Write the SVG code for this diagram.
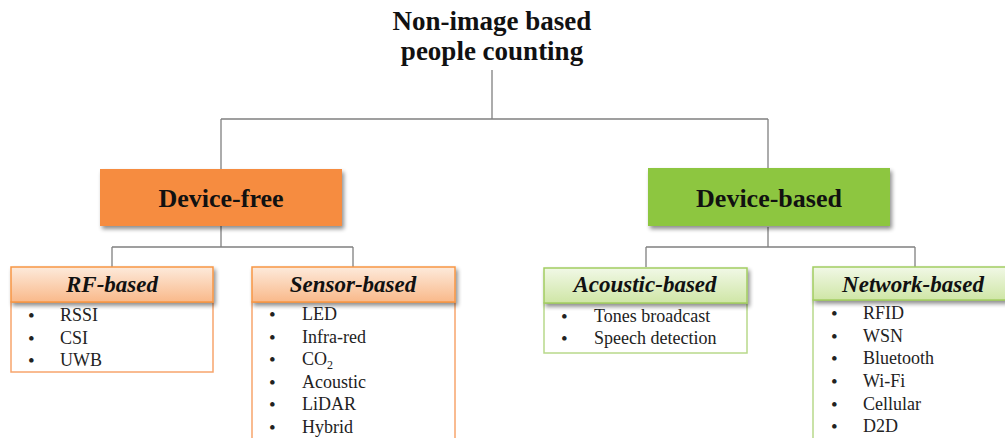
<svg xmlns="http://www.w3.org/2000/svg" width="1005" height="438" viewBox="0 0 1005 438">
  <defs>
    <linearGradient id="hdrOrange" x1="0" y1="0" x2="0" y2="1">
      <stop offset="0" stop-color="#fdeadb"/>
      <stop offset="1" stop-color="#f9b98a"/>
    </linearGradient>
    <linearGradient id="hdrGreen" x1="0" y1="0" x2="0" y2="1">
      <stop offset="0" stop-color="#f1f8e6"/>
      <stop offset="1" stop-color="#cfe6a6"/>
    </linearGradient>
    <filter id="shadow" x="-10%" y="-20%" width="125%" height="160%">
      <feGaussianBlur in="SourceAlpha" stdDeviation="2.2"/>
      <feOffset dx="2" dy="3" result="b"/>
      <feComponentTransfer><feFuncA type="linear" slope="0.45"/></feComponentTransfer>
      <feMerge><feMergeNode/><feMergeNode in="SourceGraphic"/></feMerge>
    </filter>
  </defs>
  <style>
    .title { font-family: "Liberation Serif", "Times New Roman", serif; font-weight: bold; font-size: 27px; fill: #111; text-anchor: middle; }
    .main { font-family: "Liberation Serif", "Times New Roman", serif; font-weight: bold; font-size: 26px; fill: #111; text-anchor: middle; }
    .hdr { font-family: "Liberation Serif", "Times New Roman", serif; font-weight: bold; font-style: italic; font-size: 23px; fill: #111; text-anchor: middle; }
    .item { font-family: "Liberation Serif", "Times New Roman", serif; font-size: 18px; fill: #222; }
    .bul { font-family: "Liberation Serif", "Times New Roman", serif; font-size: 19px; fill: #222; }
    .wire { stroke: #808080; stroke-width: 1.3; fill: none; }
    .oBody { fill: #ffffff; stroke: #f7a56c; stroke-width: 1.5; }
    .gBody { fill: #ffffff; stroke: #b8d98a; stroke-width: 1.5; }
    .oHdr { fill: url(#hdrOrange); stroke: #f79646; stroke-width: 1.5; }
    .gHdr { fill: url(#hdrGreen); stroke: #a3cd62; stroke-width: 1.5; }
  </style>

  <rect width="1005" height="438" fill="#ffffff"/>

  <!-- connectors -->
  <g id="connectors">
    <path class="wire" d="M492,70 V119 M221,119 H768 M221,119 V169 M768,119 V168"/>
    <path class="wire" d="M221,226 V247 M112,247 H353 M112,247 V267 M353,247 V267"/>
    <path class="wire" d="M768,227 V247 M646,247 H915 M646,247 V267 M915,247 V267"/>
  </g>

  <!-- root -->
  <g id="root">
    <text class="title" x="492" y="30">Non-image based</text>
    <text class="title" x="492" y="60">people counting</text>
  </g>

  <!-- level 1 -->
  <g id="device-free">
    <rect x="100" y="169" width="242" height="57" fill="#f68c3f" filter="url(#shadow)"/>
    <text class="main" x="221" y="207">Device-free</text>
  </g>
  <g id="device-based">
    <rect x="648" y="168" width="242" height="58" fill="#8dc63f" filter="url(#shadow)"/>
    <text class="main" x="769" y="207">Device-based</text>
  </g>

  <!-- RF-based -->
  <g id="rf-based">
    <rect class="oBody" x="11" y="302" width="202" height="70"/>
    <rect class="oHdr" x="11" y="267" width="202" height="35" filter="url(#shadow)"/>
    <text class="hdr" x="112" y="292">RF-based</text>
    <g class="bul"><text x="28" y="322">•</text><text x="28" y="345">•</text><text x="28" y="367">•</text></g>
    <g class="item"><text x="60" y="321">RSSI</text><text x="60" y="344">CSI</text><text x="60" y="366">UWB</text></g>
  </g>

  <!-- Sensor-based -->
  <g id="sensor-based">
    <rect class="oBody" x="252" y="302" width="203" height="145"/>
    <rect class="oHdr" x="252" y="267" width="203" height="35" filter="url(#shadow)"/>
    <text class="hdr" x="353" y="292">Sensor-based</text>
    <g class="bul">
      <text x="269" y="321">•</text><text x="269" y="344">•</text><text x="269" y="366">•</text>
      <text x="269" y="389">•</text><text x="269" y="411">•</text><text x="269" y="434">•</text>
    </g>
    <g class="item">
      <text x="302" y="320">LED</text>
      <text x="302" y="343">Infra-red</text>
      <text x="302" y="365">CO<tspan font-size="12" dy="4">2</tspan></text>
      <text x="302" y="388">Acoustic</text>
      <text x="302" y="410">LiDAR</text>
      <text x="302" y="433">Hybrid</text>
    </g>
  </g>

  <!-- Acoustic-based -->
  <g id="acoustic-based">
    <rect class="gBody" x="544" y="303" width="203" height="50"/>
    <rect class="gHdr" x="544" y="268" width="203" height="35" filter="url(#shadow)"/>
    <text class="hdr" x="645" y="292">Acoustic-based</text>
    <g class="bul"><text x="561" y="323">•</text><text x="561" y="345">•</text></g>
    <g class="item"><text x="594" y="322">Tones broadcast</text><text x="594" y="344">Speech detection</text></g>
  </g>

  <!-- Network-based -->
  <g id="network-based">
    <rect class="gBody" x="813" y="300" width="203" height="147"/>
    <rect class="gHdr" x="813" y="267" width="203" height="33" filter="url(#shadow)"/>
    <text class="hdr" x="913" y="292">Network-based</text>
    <g class="bul">
      <text x="831" y="320">•</text><text x="831" y="343">•</text><text x="831" y="365">•</text>
      <text x="831" y="388">•</text><text x="831" y="411">•</text><text x="831" y="433">•</text>
    </g>
    <g class="item">
      <text x="863" y="319">RFID</text>
      <text x="863" y="342">WSN</text>
      <text x="863" y="364">Bluetooth</text>
      <text x="863" y="387">Wi-Fi</text>
      <text x="863" y="410">Cellular</text>
      <text x="863" y="432">D2D</text>
    </g>
  </g>
</svg>
